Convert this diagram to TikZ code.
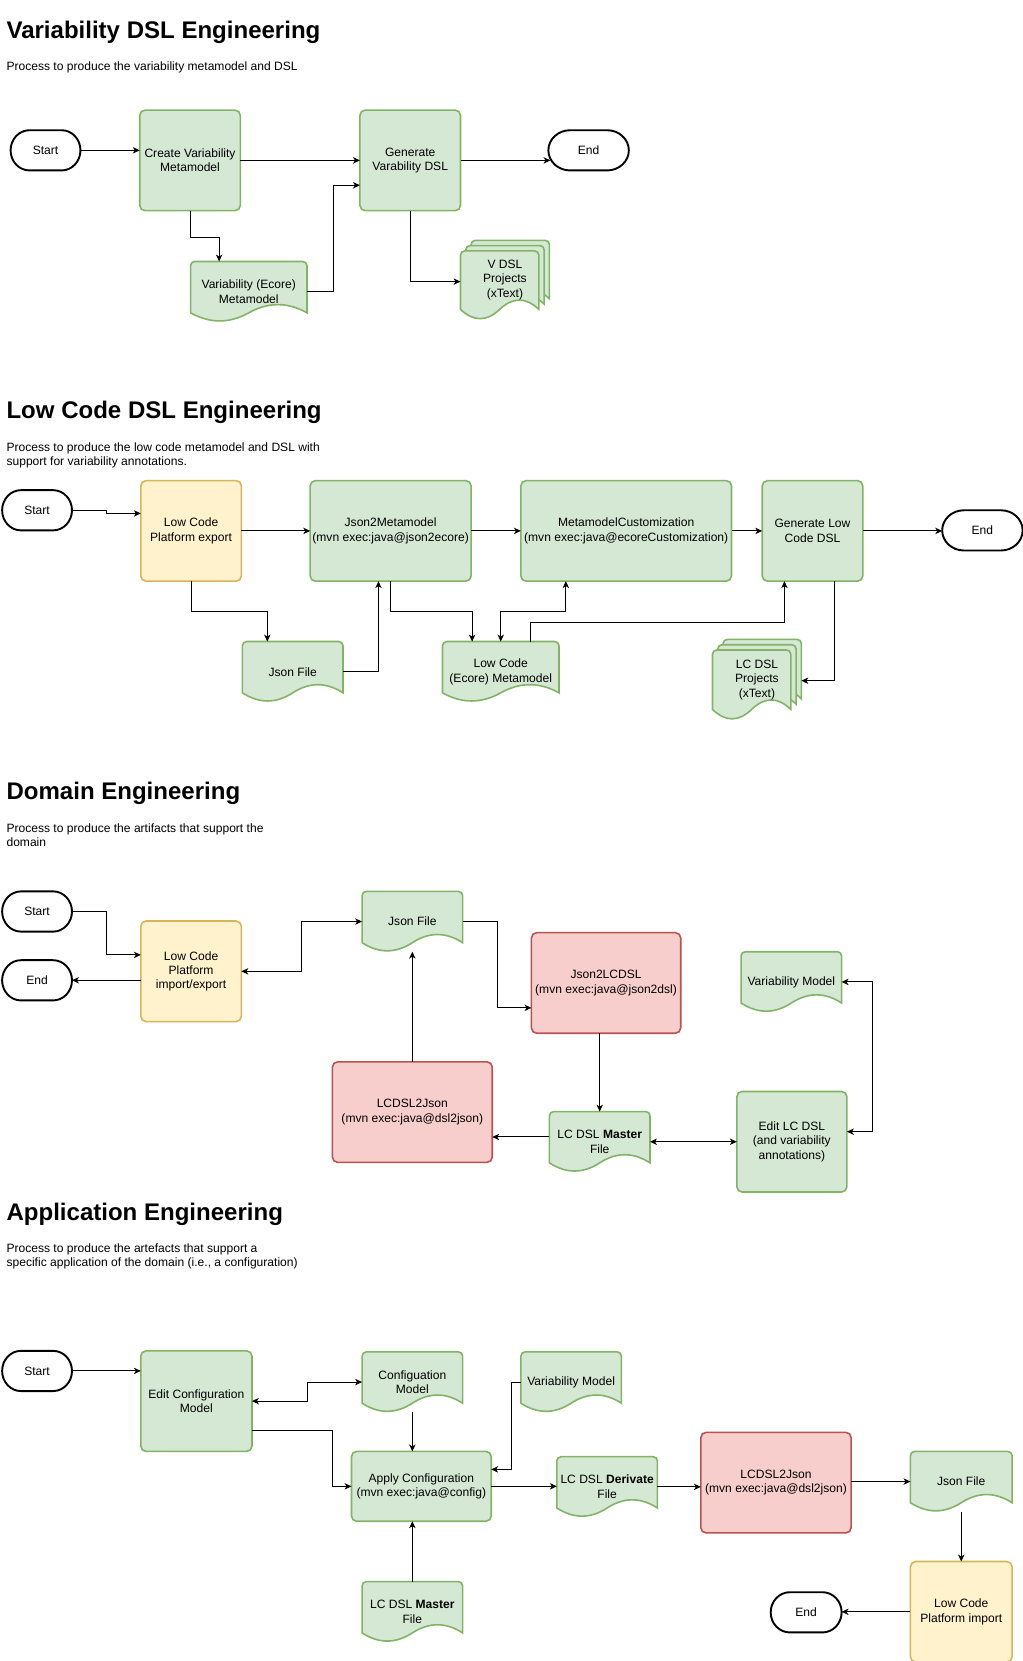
\documentclass[tikz,border=0pt]{standalone}
\usepackage{fontspec}
\setmainfont{Liberation Sans}
\usetikzlibrary{arrows.meta,calc}
\definecolor{gfill}{HTML}{D5E8D4}
\definecolor{gdraw}{HTML}{82B366}
\definecolor{yfill}{HTML}{FFF2CC}
\definecolor{ydraw}{HTML}{D6B656}
\definecolor{rfill}{HTML}{F8CECC}
\definecolor{rdraw}{HTML}{B85450}
\tikzset{
  txt/.style={font=\fontsize{11.4}{13.6}\selectfont, align=center, inner sep=0pt, outer sep=0pt},
  gbox/.style={txt, draw=gdraw, fill=gfill, line width=1.5pt, rounded corners=5pt},
  ybox/.style={txt, draw=ydraw, fill=yfill, line width=1.5pt, rounded corners=5pt},
  rbox/.style={txt, draw=rdraw, fill=rfill, line width=1.5pt, rounded corners=5pt},
  gdoc/.style={draw=gdraw, fill=gfill, line width=1.5pt},
  termline/.style={draw=black, fill=white, line width=1.8pt},
  tip/.tip={Stealth[length=6.5pt,width=6pt,inset=1.8pt]},
  arr/.style={line width=0.95pt, -tip},
  darr/.style={line width=0.95pt, tip-tip},
  ttl/.style={anchor=base west, inner sep=0pt, font=\fontsize{22.7}{27}\selectfont\bfseries},
  sub/.style={anchor=base west, inner sep=0pt, font=\fontsize{11.4}{13.6}\selectfont},
}
% document shape path: x y w h style
\newcommand\docpath[5]{%
  \pgfmathsetmacro\xr{#1+#3}%
  \pgfmathsetmacro\yb{#2+0.85*#4}%
  \pgfmathsetmacro\xa{#1+0.8333*#3}%
  \pgfmathsetmacro\xb{#1+0.6667*#3}%
  \pgfmathsetmacro\ya{#2+0.67*#4}%
  \pgfmathsetmacro\xm{#1+0.5*#3}%
  \pgfmathsetmacro\xc{#1+0.3333*#3}%
  \pgfmathsetmacro\xd{#1+0.1667*#3}%
  \pgfmathsetmacro\yc{#2+1.03*#4}%
  \draw[#5] (#1,\yb) [rounded corners=4pt] -- (#1,#2) -- (\xr,#2) [sharp corners] -- (\xr,\yb)
    .. controls (\xa,\ya) and (\xb,\ya) .. (\xm,\yb)
    .. controls (\xc,\yc) and (\xd,\yc) .. (#1,\yb) -- cycle;%
}
% name x y w h style text
\newcommand\docshape[7]{%
  \docpath{#2}{#3}{#4}{#5}{#6}%
  \node[txt, minimum width=#4pt, minimum height=#5pt] (#1) at (#2+0.5*#4, #3+0.5*#5) {#7};%
}
\newcommand\multidoc[7]{%
  \pgfmathsetmacro\mw{#4-10}\pgfmathsetmacro\mh{#5-10}%
  \docpath{#2+10}{#3}{\mw}{\mh}{#6}%
  \docpath{#2+5}{#3+5}{\mw}{\mh}{#6}%
  \docpath{#2}{#3+10}{\mw}{\mh}{#6}%
  \node[txt, minimum width=#4pt, minimum height=#5pt] (#1) at (#2+0.5*#4, #3+0.5*#5) {#7};%
}
\newcommand\boxnode[7]{%
  \node[#6, minimum width=#4pt, minimum height=#5pt] (#1) at (#2+0.5*#4, #3+0.5*#5) {#7};%
}
% name x y w h text
\newcommand\termshape[6]{%
  \pgfmathsetmacro\rx{0.27*#4}%
  \pgfmathsetmacro\ry{0.5*#5}%
  \draw[termline] (#2+\rx, #3) -- (#2+#4-\rx, #3)
     arc[start angle=90, end angle=-90, x radius=\rx pt, y radius=\ry pt]
     -- (#2+\rx, #3+#5)
     arc[start angle=270, end angle=90, x radius=\rx pt, y radius=\ry pt] -- cycle;%
  \node[txt, minimum width=#4pt, minimum height=#5pt] (#1) at (#2+0.5*#4, #3+0.5*#5) {#6};%
}
\begin{document}
\begin{tikzpicture}[x=1pt,y=-1pt]
\fill[white] (0,0) rectangle (966,1569);
\useasboundingbox (0,0) rectangle (966,1569);

% ===== Section 1 =====
\node[ttl] (t1) at (6,36) {Variability DSL Engineering};
\node[sub] (st1) at (6,67) {Process to produce the variability metamodel and DSL};
\termshape{s1start}{10}{123}{66}{38}{Start}
\boxnode{s1create}{132}{104}{95}{95}{gbox}{Create Variability\\Metamodel}
\boxnode{s1gen}{340}{104}{95}{95}{gbox}{Generate\\Varability DSL}
\termshape{s1end}{518}{123}{76}{38}{End}
\docshape{s1vemm}{180}{247}{110}{57}{gdoc}{Variability (Ecore)\\Metamodel}
\multidoc{s1vdsl}{435}{227}{84}{75}{gdoc}{V DSL\\Projects\\(xText)}

\draw[arr] (s1start.east) -- (s1start.east -| s1create.west);
\draw[arr] (s1create.east) -- (s1gen.west);
\draw[arr] (s1gen.east) -- ([xshift=2pt]s1gen.east -| s1end.west);
\draw[arr] (s1create.south) -- ++(0,25) -| ([xshift=-28pt]s1vemm.north);
\draw[arr] (s1vemm.east) -- ++(25,0) |- ([yshift=-23.5pt]s1gen.west);
\draw[arr] (s1gen.south) |- ([yshift=-1.5pt]s1vdsl.west);

% ===== Section 2 =====
\node[ttl] (t2) at (6,395.5) {Low Code DSL Engineering};
\node[sub] (st2a) at (6,426.5) {Process to produce the low code metamodel and DSL with};
\node[sub] (st2b) at (6,440) {support for variability annotations.};
\termshape{s2start}{2}{463}{66}{38}{Start}
\boxnode{s2lcexp}{133}{454}{95}{95}{ybox}{Low Code\\Platform export}
\boxnode{s2j2m}{293}{454}{152}{95}{gbox}{Json2Metamodel\\(mvn exec:java@json2ecore)}
\boxnode{s2mmc}{492}{454}{199}{95}{gbox}{MetamodelCustomization\\(mvn exec:java@ecoreCustomization)}
\boxnode{s2gen}{720}{454}{95}{95}{gbox}{Generate Low\\Code DSL}
\termshape{s2end}{890}{482}{76}{38}{End}
\docshape{s2json}{229}{606}{95}{57}{gdoc}{Json File}
\docshape{s2lcemm}{418}{606}{110}{57}{gdoc}{Low Code\\(Ecore) Metamodel}
\multidoc{s2lcdsl}{673}{604}{84}{76}{gdoc}{LC DSL\\Projects\\(xText)}

\draw[arr] (s2start.east) -- ++(33,0) -- ++(0,3) -- ([yshift=-3pt]s2start.east -| s2lcexp.west);
\draw[arr] (s2lcexp.east) -- (s2j2m.west);
\draw[arr] (s2j2m.east) -- (s2mmc.west);
\draw[arr] (s2mmc.east) -- (s2gen.west);
\draw[arr] (s2gen.east) -- (s2gen.east -| s2end.west);
\draw[arr] (s2lcexp.south) -- ++(0,29) -| ([xshift=-24pt]s2json.north);
\draw[arr] (s2json.east) -| ([xshift=-11.5pt]s2j2m.south);
\draw[arr] (s2j2m.south) -- ++(0,29) -| ([xshift=-27pt]s2lcemm.north);
\draw[darr] ([xshift=-57pt]s2mmc.south) -- ++(0,29) -| (s2lcemm.north);
\draw[arr] ([xshift=28pt]s2lcemm.north) -- ++(0,-18) -| ([xshift=-26.5pt]s2gen.south);
\draw[arr] ([xshift=21pt]s2gen.south) |- ([yshift=-1pt]s2lcdsl.east);

% ===== Section 3 =====
\node[ttl] (t3) at (6,755) {Domain Engineering};
\node[sub] (st3a) at (6,786) {Process to produce the artifacts that support the};
\node[sub] (st3b) at (6,799.5) {domain};
\termshape{s3start}{2}{842}{66}{38}{Start}
\termshape{s3end}{2}{907}{66}{38}{End}
\boxnode{s3lc}{133}{870}{95}{95}{ybox}{Low Code\\Platform\\import/export}
\docshape{s3json}{342}{842}{95}{57}{gdoc}{Json File}
\boxnode{s3j2l}{502}{881}{141}{95}{rbox}{Json2LCDSL\\(mvn exec:java@json2dsl)}
\docshape{s3vm}{700}{899}{95}{57}{gdoc}{Variability Model}
\boxnode{s3l2j}{314}{1003}{151}{95}{rbox}{LCDSL2Json\\(mvn exec:java@dsl2json)}
\docshape{s3master}{519}{1050}{95}{57}{gdoc}{LC DSL \textbf{Master}\\File}
\boxnode{s3edit}{696}{1031}{104}{95}{gbox}{Edit LC DSL\\(and variability\\annotations)}

\draw[arr] (s3start.east) -- ++(33,0) |- ([yshift=15.5pt]s3lc.west);
\draw[arr] (s3lc.west |- s3end.east) -- (s3end.east);
\draw[darr] (s3lc.east) -- ++(57,0) |- (s3json.west);
\draw[arr] (s3json.east) -- ++(33,0) |- ([yshift=-23.5pt]s3j2l.west);
\draw[arr] (s3master.north |- s3j2l.south) -- (s3master.north);
\draw[arr] ([yshift=4.5pt]s3master.west) -- ([yshift=4.5pt]s3master.west -| s3l2j.east);
\draw[arr] (s3l2j.north) -- (s3json.south);
\draw[darr] (s3master.east) -- (s3master.east -| s3edit.west);
\draw[darr] (s3vm.east) -- ++(29,0) |- ([yshift=9.5pt]s3edit.east);

% ===== Section 4 =====
\node[ttl] (t4) at (6,1153) {Application Engineering};
\node[sub] (st4a) at (6,1183) {Process to produce the artefacts that support a};
\node[sub] (st4b) at (6,1196.5) {specific application of the domain (i.e., a configuration)};
\termshape{s4start}{2}{1276}{66}{38}{Start}
\boxnode{s4edit}{133}{1276}{105}{95}{gbox}{Edit Configuration\\Model}
\docshape{s4cfg}{342}{1277}{95}{57}{gdoc}{Configuation\\Model}
\docshape{s4vm}{492}{1277}{95}{57}{gdoc}{Variability Model}
\boxnode{s4apply}{332}{1371}{132}{66}{gbox}{Apply Configuration\\(mvn exec:java@config)}
\docshape{s4deriv}{526}{1376}{95}{57}{gdoc}{LC DSL \textbf{Derivate}\\File}
\boxnode{s4l2j}{662}{1353}{142}{95}{rbox}{LCDSL2Json\\(mvn exec:java@dsl2json)}
\docshape{s4json}{860}{1371}{96}{57}{gdoc}{Json File}
\boxnode{s4lcimp}{860}{1475}{96}{95}{ybox}{Low Code\\Platform import}
\termshape{s4end}{728}{1504}{67}{38}{End}
\docshape{s4master}{342}{1494}{95}{57}{gdoc}{LC DSL \textbf{Master}\\File}

\draw[arr] (s4start.east) -- (s4start.east -| s4edit.west);
\draw[darr] (s4edit.east) -- ++(52,0) |- (s4cfg.west);
\draw[arr] ([yshift=-27.5pt]s4edit.east) -- ++(76,0) |- (s4apply.west);
\draw[arr] (s4cfg.south) -- (s4cfg.south |- s4apply.north);
\draw[arr] (s4vm.west) -- ++(-9,0) |- ([yshift=16pt]s4apply.east);
\draw[arr] (s4apply.east) -- (s4apply.east -| s4deriv.west);
\draw[arr] (s4deriv.east) -- (s4deriv.east -| s4l2j.west);
\draw[arr] (s4l2j.east |- s4json.west) -- (s4json.west);
\draw[arr] (s4json.south) -- (s4lcimp.north);
\draw[arr] (s4lcimp.west) -- (s4lcimp.west -| s4end.east);
\draw[arr] (s4master.north) -- (s4master.north |- s4apply.south);
\end{tikzpicture}
\end{document}
